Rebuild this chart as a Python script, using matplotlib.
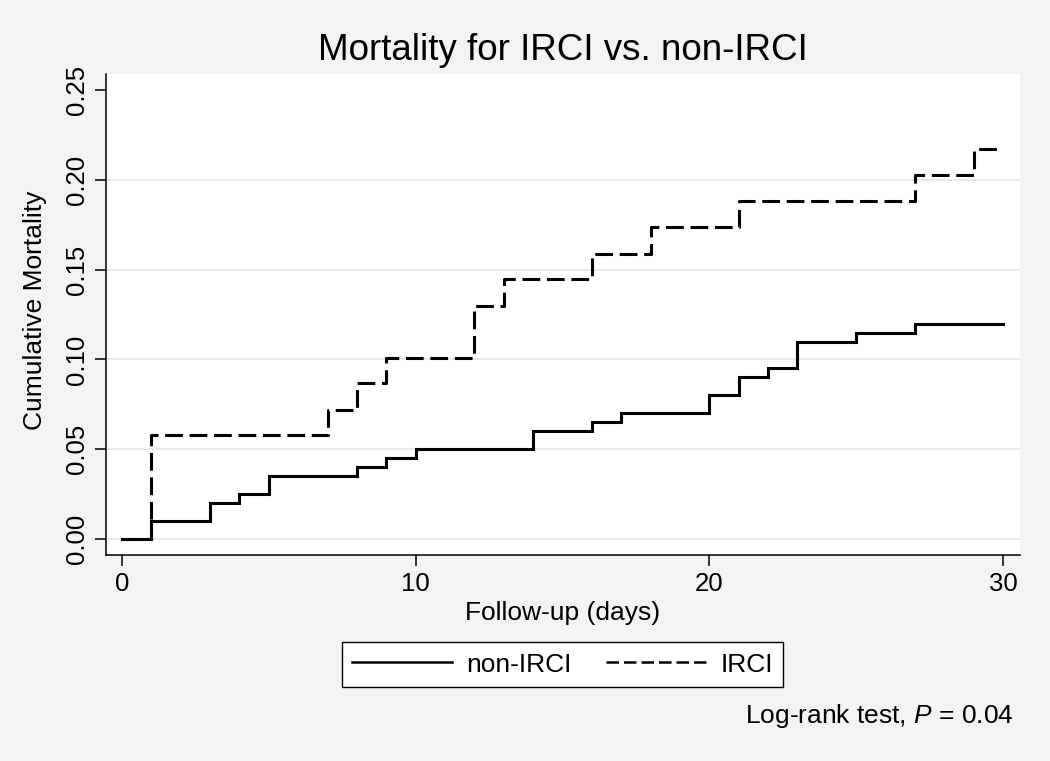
import matplotlib
matplotlib.use("Agg")
import matplotlib.pyplot as plt
from matplotlib.lines import Line2D

plt.rcParams['font.family'] = ['Liberation Sans', 'DejaVu Sans']
plt.rcParams['mathtext.fontset'] = 'custom'
plt.rcParams['mathtext.rm'] = 'Liberation Sans'
plt.rcParams['mathtext.it'] = 'Liberation Sans:italic'

# Data
non_ircI_days = [0, 1, 3, 4, 5, 8, 9, 10, 14, 16, 17, 20, 21, 22, 23, 25, 27, 30]
non_ircI_mort = [0, 0.010, 0.020, 0.025, 0.035, 0.040, 0.045, 0.050, 0.060, 0.065,
                 0.070, 0.080, 0.090, 0.095, 0.110, 0.115, 0.120, 0.120]
ircI_days = [0, 1, 7, 8, 9, 12, 13, 16, 18, 21, 27, 29, 30]
ircI_mort = [0, 0.058, 0.072, 0.087, 0.101, 0.130, 0.145, 0.159, 0.174, 0.188,
             0.203, 0.217, 0.217]
x_ticks = [0, 10, 20, 30]
y_ticks = [0.00, 0.05, 0.10, 0.15, 0.20, 0.25]
y_tick_labels = ["0.00", "0.05", "0.10", "0.15", "0.20", "0.25"]
series_names = ["non-IRCI", "IRCI"]

BG = '#f3f3f3'
W, H = 1050, 761
fig = plt.figure(figsize=(10.5, 7.61), dpi=100, facecolor=BG)
ax = fig.add_axes([106 / W, 1 - 555 / H, (1020 - 106) / W, (555 - 74) / H])
ax.set_facecolor('white')

lw = 2.2
ax.step(non_ircI_days, non_ircI_mort, where='post', color='black', lw=lw,
        solid_joinstyle='miter', zorder=3)
ax.step(ircI_days, ircI_mort, where='post', color='black', lw=lw,
        dashes=(5.8, 2.2), zorder=3)

ax.set_xlim(-0.545, 30.58)
ax.set_ylim(-0.0089, 0.259)
ax.set_xticks(x_ticks)
ax.set_yticks(y_ticks)
ax.set_yticklabels(y_tick_labels, rotation=90, va='center')

for yv in y_ticks[:-1]:
    ax.axhline(yv, color='#e9e9e9', lw=1.5, zorder=1)

for s in ['top', 'right']:
    ax.spines[s].set_visible(False)
for s in ['left', 'bottom']:
    ax.spines[s].set_linewidth(1.1)
ax.tick_params(axis='both', direction='out', length=8, width=1.1,
               labelsize=18.5, colors='black')
ax.tick_params(axis='x', pad=4.5)
ax.tick_params(axis='y', pad=4.0)

fig.text(563 / W, 1 - 60 / H, "Mortality for IRCI vs. non-IRCI", fontsize=26.5,
         ha='center', va='baseline')
fig.text(563 / W, 1 - 620 / H, "Follow-up (days)", fontsize=19,
         ha='center', va='baseline')
fig.text(42 / W, 1 - 310 / H, "Cumulative Mortality", fontsize=19, rotation=90,
         rotation_mode='anchor', ha='center', va='baseline')
fig.text(1014 / W, 1 - 723 / H, r"Log-rank test, $\it{P}$ = 0.04", fontsize=19,
         ha='right', va='baseline')

handles = [Line2D([], [], color='black', lw=1.8),
           Line2D([], [], color='black', lw=1.8, dashes=(5.0, 2.0))]
leg = fig.legend(handles, series_names, loc='center', ncol=2,
                 bbox_to_anchor=(562.5 / W, 1 - 664.5 / H), fontsize=19,
                 frameon=True, fancybox=False, shadow=False,
                 handlelength=3.8, handletextpad=0.55, columnspacing=1.3,
                 borderpad=0.38, borderaxespad=0)
frame = leg.get_frame()
frame.set_edgecolor('black')
frame.set_linewidth(1.0)
frame.set_facecolor('white')
frame.set_alpha(1)

fig.savefig("out.png", dpi=100, facecolor=BG)
